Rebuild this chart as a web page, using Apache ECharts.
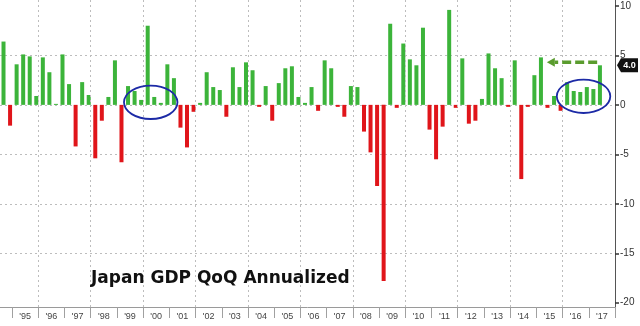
<!DOCTYPE html>
<html>
<head>
<meta charset="utf-8">
<script src="https://cdn.jsdelivr.net/npm/echarts@6/dist/echarts.min.js"></script>
<style>
html,body{margin:0;padding:0;background:#fff;}
#c{width:640px;height:326px;}
</style>
</head>
<body>
<div id="c"></div>
<script>
// ---- data ----
const firstYear = 1994;
const firstQuarter = 3; // first bar is 1994 Q3, last is 2017 Q2
const gdp = [
  6.4, -2.1,
  4.1, 5.1, 4.9, 0.9,
  4.8, 3.3, 0.1, 5.1,
  2.1, -4.2, 2.3, 1.0,
  -5.4, -1.6, 0.8, 4.5,
  -5.8, 1.9, 1.4, 0.5,
  8.0, 0.8, 0.2, 4.1,
  2.7, -2.3, -4.3, -0.7,
  0.2, 3.3, 1.8, 1.5,
  -1.2, 3.8, 1.8, 4.3,
  3.5, -0.2, 1.9, -1.6,
  2.2, 3.7, 3.9, 0.8,
  0.2, 1.8, -0.6, 4.5,
  3.7, -0.2, -1.2, 1.9,
  1.8, -2.7, -4.8, -8.2,
  -17.8, 8.2, -0.3, 6.2,
  4.6, 4.0, 7.8, -2.5,
  -5.5, -2.2, 9.6, -0.3,
  4.7, -1.9, -1.6, 0.6,
  5.2, 3.7, 2.7, -0.2,
  4.5, -7.5, -0.2, 3.0,
  4.8, -0.3, 0.9, -0.6,
  2.3, 1.4, 1.3, 1.8,
  1.6, 4.0
];
const labelYears = [1995,1996,1997,1998,1999,2000,2001,2002,2003,2004,2005,2006,2007,2008,2009,2010,2011,2012,2013,2014,2015,2016,2017];
const yearLabels = ["'95","'96","'97","'98","'99","'00","'01","'02","'03","'04","'05","'06","'07","'08","'09","'10","'11","'12","'13","'14","'15","'16","'17"];
const gridYears = [1996,1998,2000,2002,2004,2006,2008,2010,2012,2014,2016];
const yTicks = [-20,-15,-10,-5,0,5,10];
const latestValue = 4.0;
const titleText = 'Japan GDP QoQ Annualized';

// annotations (data units)
const circles = [
  {x: 2000.29, y: 0.26, rx: 1.02, ry: 1.69},
  {x: 2016.80, y: 0.87, rx: 1.02, ry: 1.69}
];
const arrow = {from: 2017.32, to: 2015.40, y: 4.3};

// ---- build ----
const quarterPos = gdp.map((v, i) => {
  const k = firstQuarter - 1 + i;
  const year = firstYear + Math.floor(k / 4);
  const q = (k % 4) + 1;
  return year + (q - 0.5) / 4 + 0.05;
});
const barData = gdp.map((v, i) => ({
  value: [quarterPos[i], v],
  itemStyle: {color: v >= 0 ? '#3cb43a' : '#e0151a'}
}));

const labelMap = {};
labelYears.forEach((y, i) => { labelMap[(y + 0.5).toFixed(1)] = yearLabels[i]; });

const chart = echarts.init(document.getElementById('c'), null, {renderer: 'canvas'});
const option = {
  backgroundColor: '#fff',
  animation: false,
  title: {
    text: titleText,
    left: 86, top: 265,
    textStyle: {fontFamily: 'DejaVu Sans', fontWeight: 'bold', fontSize: 17, color: '#111'}
  },
  grid: {left: 0, right: 25, top: 0, bottom: 19, containLabel: false},
  xAxis: {
    type: 'value',
    min: 1994.541, max: 2018,
    axisLine: {show: true, onZero: false, lineStyle: {color: '#9a9a9a', width: 1}},
    axisTick: {show: true, length: 11, customValues: labelYears.concat([2018]), lineStyle: {color: '#a0a0a0'}},
    axisLabel: {
      show: true,
      customValues: labelYears.map(y => y + 0.5),
      formatter: v => labelMap[Number(v).toFixed(1)] || '',
      fontFamily: 'Liberation Sans', fontSize: 9, color: '#444', margin: 5
    },
    splitLine: {show: false}
  },
  yAxis: {
    type: 'value',
    position: 'right',
    min: -20.43, max: 10.6,
    splitNumber: 6,
    axisLine: {show: true, lineStyle: {color: '#555', width: 1}},
    axisTick: {show: true, length: 4, customValues: yTicks, lineStyle: {color: '#333', width: 1.5}},
    axisLabel: {
      customValues: yTicks,
      formatter: v => String(v),
      fontFamily: 'Liberation Sans', fontSize: 10, color: '#333', margin: 5
    },
    splitLine: {show: true, showMinLine: false, showMaxLine: false, lineStyle: {color: '#bdbdbd', type: [2, 3], width: 1}}
  },
  series: [{
    type: 'bar',
    data: barData,
    barWidth: 4,
    markLine: {
      silent: true,
      symbol: 'none',
      label: {show: false},
      lineStyle: {color: '#bdbdbd', type: [2, 3], width: 1},
      data: gridYears.map(y => ({xAxis: y}))
    }
  }]
};
chart.setOption(option);

function px(x, y) { return chart.convertToPixel({gridIndex: 0}, [x, y]); }
const graphics = [];
circles.forEach(c => {
  const p = px(c.x, c.y);
  const pr = px(c.x + c.rx, c.y + c.ry);
  graphics.push({
    type: 'ellipse', silent: true, z: 100,
    shape: {cx: p[0], cy: p[1], rx: Math.abs(pr[0] - p[0]), ry: Math.abs(p[1] - pr[1])},
    style: {fill: null, stroke: '#1c2aa6', lineWidth: 1.8}
  });
});
// arrow
const a0 = px(arrow.from, arrow.y);
const a1 = px(arrow.to, arrow.y);
const headLen = 8, headHalf = 4.5;
graphics.push({
  type: 'line', silent: true, z: 100,
  shape: {x1: a0[0], y1: a0[1], x2: a1[0] + headLen, y2: a1[1]},
  style: {stroke: '#5a9c2e', lineWidth: 3.5, lineDash: [9, 4]}
});
graphics.push({
  type: 'polygon', silent: true, z: 100,
  shape: {points: [[a1[0], a1[1]], [a1[0] + headLen, a1[1] - headHalf], [a1[0] + headLen, a1[1] + headHalf]]},
  style: {fill: '#5a9c2e'}
});
// latest value tag
const tp = px(2018, latestValue);
graphics.push({
  type: 'polygon', silent: true, z: 100,
  shape: {points: [[tp[0] + 2, tp[1]], [tp[0] + 6, tp[1] - 7], [tp[0] + 23, tp[1] - 7], [tp[0] + 23, tp[1] + 7], [tp[0] + 6, tp[1] + 7]]},
  style: {fill: '#111'}
});
graphics.push({
  type: 'text', silent: true, z: 101,
  x: tp[0] + 14.5, y: tp[1],
  style: {text: latestValue.toFixed(1), fill: '#fff', font: 'bold 9px "Liberation Sans"', align: 'center', verticalAlign: 'middle'}
});
chart.setOption({graphic: graphics});
</script>
</body>
</html>
